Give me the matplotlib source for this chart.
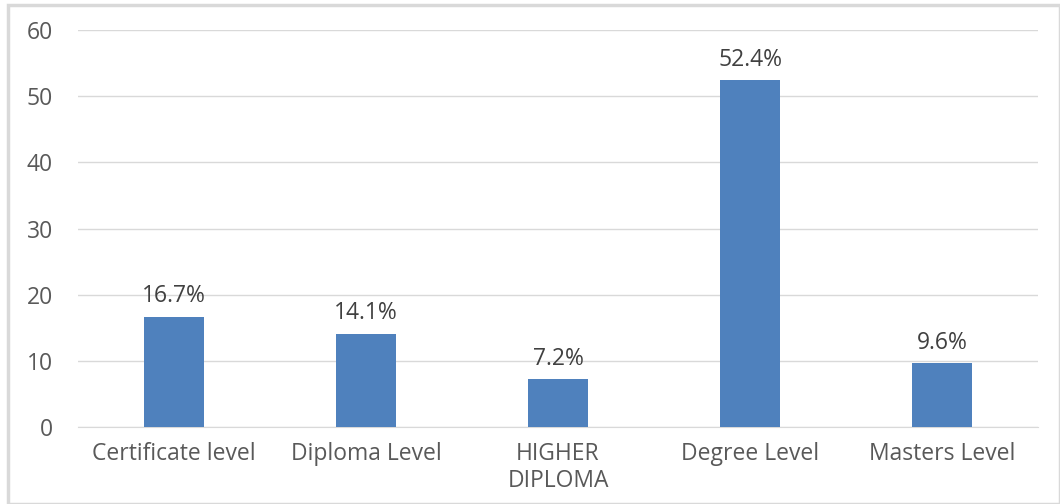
import matplotlib
matplotlib.use("Agg")
import matplotlib.pyplot as plt
from matplotlib.patches import Rectangle

categories = ["Certificate level", "Diploma Level", "HIGHER\nDIPLOMA", "Degree Level", "Masters Level"]
values = [16.7, 14.1, 7.2, 52.4, 9.6]
labels = ["16.7%", "14.1%", "7.2%", "52.4%", "9.6%"]
yticks = [0, 10, 20, 30, 40, 50, 60]

plt.rcParams['font.family'] = ['Open Sans', 'DejaVu Sans']
W, H = 1060, 504
fig = plt.figure(figsize=(W/100, H/100), dpi=100)
fig.patches.append(Rectangle((8/W, 0), 1 - 8/W, 1 - 5/H, transform=fig.transFigure,
                             fill=False, edgecolor="#d9d9d9", linewidth=2.5))

x0, x1 = 78, 1038
ytop, ybot = 30, 427
ax = fig.add_axes([x0/W, 1 - ybot/H, (x1-x0)/W, (ybot-ytop)/H])
xs = list(range(len(categories)))
bars = ax.bar(xs, values, width=0.3125, color="#4F81BD", zorder=3)
for b, lab in zip(bars, labels):
    ax.annotate(lab, (b.get_x() + b.get_width()/2, b.get_height()),
                xytext=(0, 6), textcoords="offset points", ha="center", va="bottom",
                fontsize=16.5, color="#404040")
ax.set_xlim(-0.5, len(categories) - 0.5)
ax.set_ylim(0, 60)
ax.set_yticks(yticks)
ax.set_yticklabels([str(t) for t in yticks])
ax.set_xticks(xs)
ax.set_xticklabels(categories, linespacing=1.15)
ax.tick_params(axis="both", length=0, labelsize=16.5, labelcolor="#595959")
ax.tick_params(axis="y", pad=18)
ax.tick_params(axis="x", pad=11)
ax.grid(axis="y", color="#d9d9d9", linewidth=1, zorder=0)
for s in ["top", "right", "left"]:
    ax.spines[s].set_visible(False)
ax.spines["bottom"].set_color("#d9d9d9")
fig.savefig("out.png", dpi=100)
